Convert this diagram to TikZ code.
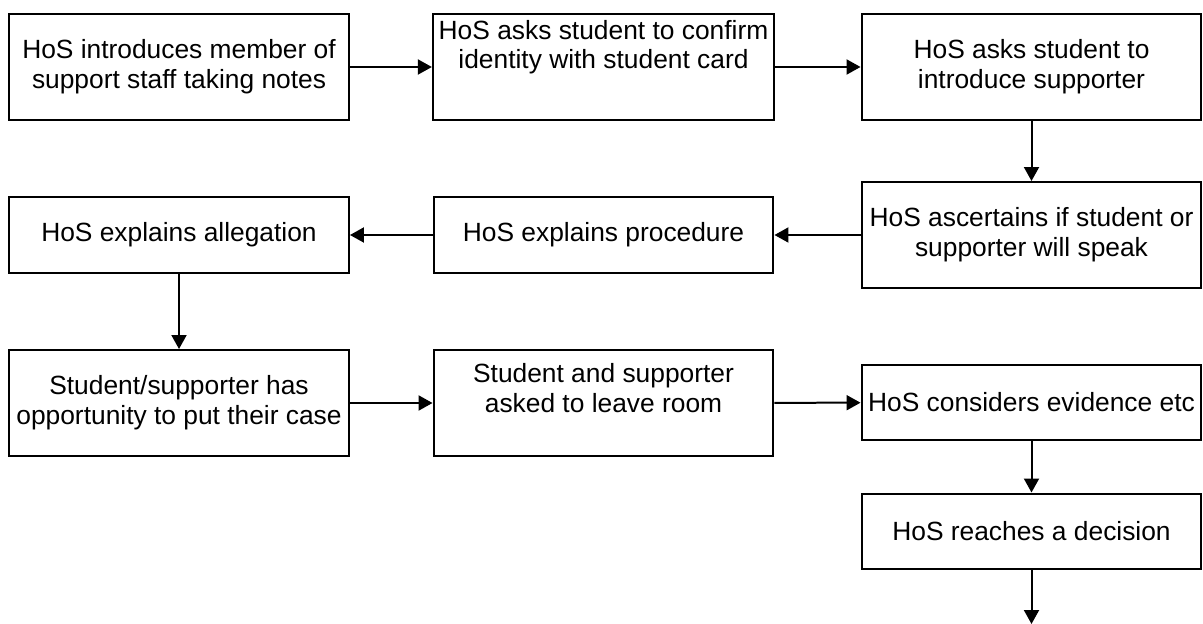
\documentclass[tikz,border=0pt]{standalone}
\usepackage{fontspec}
\setmainfont{Liberation Sans}
\usetikzlibrary{arrows.meta}

\begin{document}
\begin{tikzpicture}[x=0.02cm,y=-0.02cm,
  stepbox/.style={draw,line width=0.04cm,align=center,minimum width=6.8cm,
    font=\fontsize{15}{17}\selectfont},
  tallbox/.style={stepbox,minimum height=2.12cm},
  flatbox/.style={stepbox,minimum height=1.52cm},
  flow/.style={-{Triangle[length=0.28cm,width=0.3cm]},line width=0.04cm}]
\useasboundingbox (0,0) rectangle (1203,624);
%% nodes
\node[tallbox] (intro) at (179,67) {HoS introduces member of\\support staff taking notes};
\node[tallbox,inner ysep=0pt,text depth=0.9cm] (card) at (603.5,67) {HoS asks student to confirm\\identity with student card};
\node[tallbox] (supp) at (1031.5,67) {HoS asks student to\\introduce supporter};
\node[tallbox] (speak) at (1031.5,235) {HoS ascertains if student or\\supporter will speak};
\node[flatbox] (proc) at (603.5,235) {HoS explains procedure};
\node[flatbox] (alleg) at (179,235) {HoS explains allegation};
\node[tallbox] (case) at (179,403) {Student/supporter has\\opportunity to put their case};
\node[tallbox,inner ysep=0pt,text depth=0.6cm] (leave) at (603.5,403) {Student and supporter\\asked to leave room};
\node[flatbox] (evid) at (1031.5,402.5) {HoS considers evidence etc};
\node[flatbox] (decis) at (1031.5,531.5) {HoS reaches a decision};
\coordinate (out) at (1031.5,624);
%%% edges
\draw[flow] (intro) -- (card);
\draw[flow] (card) -- (supp);
\draw[flow] (supp) -- (speak);
\draw[flow] (speak) -- (proc);
\draw[flow] (proc) -- (alleg);
\draw[flow] (alleg) -- (case);
\draw[flow] (case) -- (leave);
\draw[flow] (leave) -- (evid);
\draw[flow] (evid) -- (decis);
\draw[flow] (decis) -- (out);
\end{tikzpicture}
\end{document}
